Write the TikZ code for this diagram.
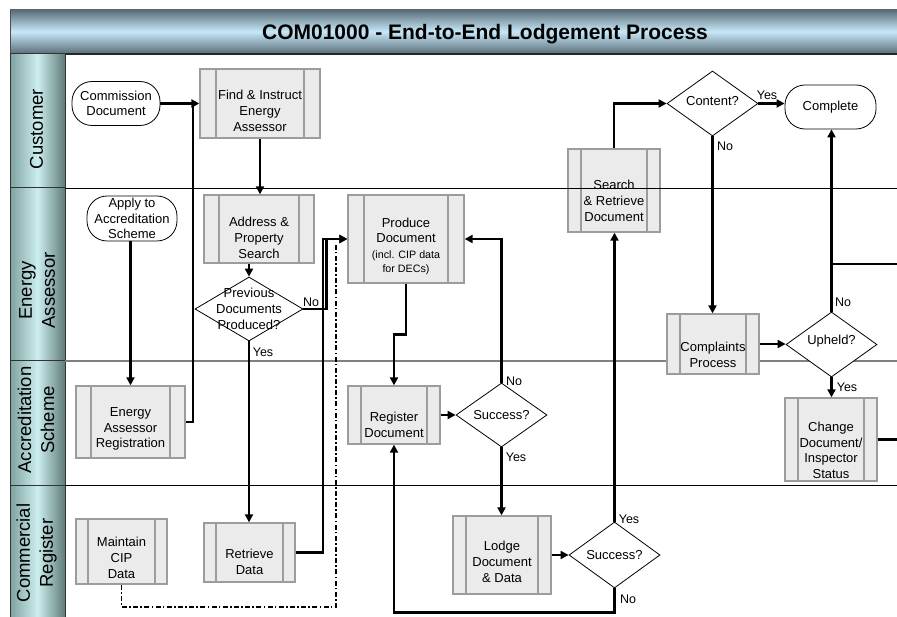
\documentclass[tikz,border=0pt]{standalone}
\usepackage{fontspec}
\setmainfont{Liberation Sans}
\usetikzlibrary{shapes.geometric,arrows.meta,calc}
\definecolor{boxfill}{HTML}{EBEBEB}
\definecolor{boxedge}{HTML}{9C9C9C}
\definecolor{ttop}{HTML}{5A6D78}
\definecolor{tmid}{HTML}{C7E8F8}
\definecolor{tbot}{HTML}{5E727E}
\definecolor{hleft}{HTML}{7FA2A0}
\definecolor{hmid}{HTML}{CCEEEE}
\definecolor{hright}{HTML}{5F7B79}
\tikzset{
  procbox/.style={draw=boxedge, fill=boxfill, line width=1.3pt, inner sep=0pt,
    path picture={
      \draw[boxedge, line width=1.3pt] ([xshift=#1]path picture bounding box.north west) -- ([xshift=#1]path picture bounding box.south west);
      \draw[boxedge, line width=1.3pt] ([xshift=-#1]path picture bounding box.north east) -- ([xshift=-#1]path picture bounding box.south east);}},
  procbox/.default=13pt,
  boxtext/.style={align=center, inner sep=0pt, font=\fontsize{13}{15.7}\selectfont},
  dia/.style={diamond, draw=black, line width=0.8pt, fill=white, inner sep=0pt},
  dtext/.style={align=center, inner sep=0pt, font=\fontsize{13}{15.7}\selectfont},
  term/.style={draw=black, line width=0.8pt, fill=white, rounded corners=20pt, inner sep=0pt,
    align=center, font=\fontsize{13}{15.5}\selectfont},
  htext/.style={rotate=90, align=center, inner sep=0pt, font=\fontsize{18.5}{23}\selectfont},
  lbl/.style={inner sep=0pt, font=\fontsize{12.5}{14}\selectfont},
  conn/.style={line width=2.3pt, -{Triangle[length=8pt, width=8pt]}},
  wire/.style={line width=2.3pt},
  dashdot/.style={line width=1.7pt, dash pattern=on 5pt off 2.3pt on 1.6pt off 2.3pt},
}
\newcommand\procnode[8]{%
  \node[procbox=#6, minimum width=#4pt, minimum height=#5pt] (#1) at (#2,#3) {};
  \node[boxtext] (#1-t) at ([yshift=-#7pt]#1.center) {#8};}
\newcommand\smallfnt{\fontsize{10.7}{13.5}\selectfont}
\begin{document}
\begin{tikzpicture}[x=1pt, y=-1pt]
\useasboundingbox (0,0) rectangle (897,617);
\fill[white] (0,0) rectangle (897,617);
% title bar
\fill[top color=ttop, bottom color=tbot, middle color=tmid] (10,10) rectangle (897,53);
\draw[black!85, line width=1.3pt] (10,54) -- (897,54);
\draw[black!70, line width=1pt] (10,10) -- (10,54);
\node[anchor=base, inner sep=0pt, font=\fontsize{21}{24}\selectfont\bfseries] (title) at (485,40) {COM01000 - End-to-End Lodgement Process};
% lane headers
\foreach \a/\b in {54/188, 188/361, 361/485, 485/618}
  \path[left color=hleft, right color=hright, middle color=hmid, draw=black!80, line width=1pt] (10,\a) rectangle (65,\b);
\node[htext] (h1) at (36.5,129) {Customer};
\node[htext] (h2) at (37,290.5) {Energy\\Assessor};
\node[htext] (h3) at (36,420) {Accreditation\\Scheme};
\node[htext] (h4) at (36.5,553) {Commercial\\Register};

% lane separators drawn beneath the shapes
\draw[black!50, line width=1.3pt] (65,361) -- (897,361);
\draw[black, line width=0.9pt] (65,485) -- (897,485);

% process boxes
\procnode{find}{260}{103.5}{120}{69}{16pt}{7.5}{Find \& Instruct\\Energy\\Assessor}
\procnode{addr}{259}{229}{110}{68}{15pt}{9}{Address \&\\Property\\Search}
\procnode{prod}{406}{239}{116}{88}{16pt}{7}{Produce\\Document\\{\smallfnt (incl. CIP data}\\[-2pt]{\smallfnt for DECs)}}
\procnode{eareg}{130.5}{422}{109}{72}{15pt}{7}{Energy\\Assessor\\Registration}
\procnode{regdoc}{394}{415}{92}{58}{13pt}{10}{Register\\Document}
\procnode{cip}{121.5}{551.5}{91}{65}{12pt}{6.5}{Maintain\\CIP\\Data}
\procnode{retr}{249.5}{552.5}{91}{59}{12pt}{9.5}{Retrieve\\Data}
\procnode{lodge}{502}{555}{98}{78}{13pt}{7}{Lodge\\Document\\\& Data}
\procnode{search}{614}{190.5}{92}{83}{13pt}{10.5}{Search\\\& Retrieve\\Document}
\procnode{compl}{713}{344}{92}{60}{13pt}{11}{Complaints\\Process}
\procnode{change}{831}{439.5}{92}{83}{13pt}{11}{Change\\Document/\\Inspector\\Status}

% terminators
\node[term, minimum width=88pt, minimum height=44pt] (comm) at (116,103.5) {Commission\\Document};
\node[term, minimum width=90pt, minimum height=45pt] (apply) at (132,218.5) {Apply to\\Accreditation\\Scheme};
\node[term, minimum width=91pt, minimum height=44pt] (complete) at (830.5,107) {Complete};

% decisions
\node[dia, minimum width=108pt, minimum height=64pt] (prev) at (249,309) {};
\node[dtext] (prev-t) at (prev.center) {Previous\\Documents\\Produced?};
\node[dia, minimum width=91pt, minimum height=64pt] (succ1) at (501.5,415) {};
\node[dtext] (succ1-t) at (succ1.center) {Success?};
\node[dia, minimum width=91pt, minimum height=66pt] (succ2) at (614.5,555) {};
\node[dtext] (succ2-t) at (succ2.center) {Success?};
\node[dia, minimum width=91pt, minimum height=65pt] (content) at (712.5,103.5) {};
\node[dtext] (content-t) at ([yshift=2pt]content.center) {Content?};
\node[dia, minimum width=91pt, minimum height=65pt] (upheld) at (831.5,344.5) {};
\node[dtext] (upheld-t) at ([yshift=3pt]upheld.center) {Upheld?};

% connectors
\coordinate (j1) at (193,103.5);
\coordinate (dd) at (336,243);
\coordinate (edgeA) at (897,264);
\coordinate (edgeB) at (897,439.5);
\draw[conn] (comm.east) -- (comm.east -| find.west);
\draw[wire] (eareg.east) -| (j1);
\draw[conn] (find.south) -- (find.south |- addr.north);
\draw[conn] (prev.north |- addr.south) -- (prev.north);
\draw[conn] (prev.south) -- (prev.south |- retr.north);
\draw[conn] (eareg.north |- apply.south) -- (eareg.north);
\draw[conn] (prev.east) -- ++(23,0) |- (prod.west);
\draw[conn] (retr.east) -- ++(27,0) |- (prod.west);
\draw[dashdot] (cip.south) -- ++(0,22) -| (dd);
\draw[conn] (prod.south) -- ++(0,51) -| (regdoc.north);
\draw[conn] (regdoc.east) -- (succ1.west);
\draw[conn] (succ1.north) |- (prod.east);
\draw[conn] (succ1.south) -- (succ1.south |- lodge.north);
\draw[conn] (lodge.east) -- (succ2.west);
\draw[conn] (succ2.north) -- (succ2.north |- search.south);
\draw[conn] (succ2.south) -- ++(0,24) -| (regdoc.south);
\draw[conn] (search.north) |- (content.west);
\draw[conn] (content.east) -- (content.east -| complete.west);
\draw[conn] (content.south) -- (content.south |- compl.north);
\draw[conn] (compl.east) -- (compl.east -| upheld.west);
\draw[conn] (upheld.north) -- (upheld.north |- complete.south);
\draw[wire] (upheld.north |- edgeA) -- (edgeA);
\draw[conn] (upheld.south) -- (upheld.south |- change.north);
\draw[wire] (change.east) -- (change.east -| edgeB);

% labels
\node[lbl] (l1) at (263,352) {Yes};
\node[lbl] (l2) at (311,302) {No};
\node[lbl] (l3) at (514,381) {No};
\node[lbl] (l4) at (516,457) {Yes};
\node[lbl] (l5) at (629,519) {Yes};
\node[lbl] (l6) at (628,599) {No};
\node[lbl] (l7) at (767,95) {Yes};
\node[lbl] (l8) at (725,146) {No};
\node[lbl] (l9) at (843,302) {No};
\node[lbl] (l10) at (847,387) {Yes};

% top lane separator (crosses the Search box as in the reference)
\draw[black, line width=0.9pt] (65,188) -- (897,188);
\end{tikzpicture}
\end{document}
